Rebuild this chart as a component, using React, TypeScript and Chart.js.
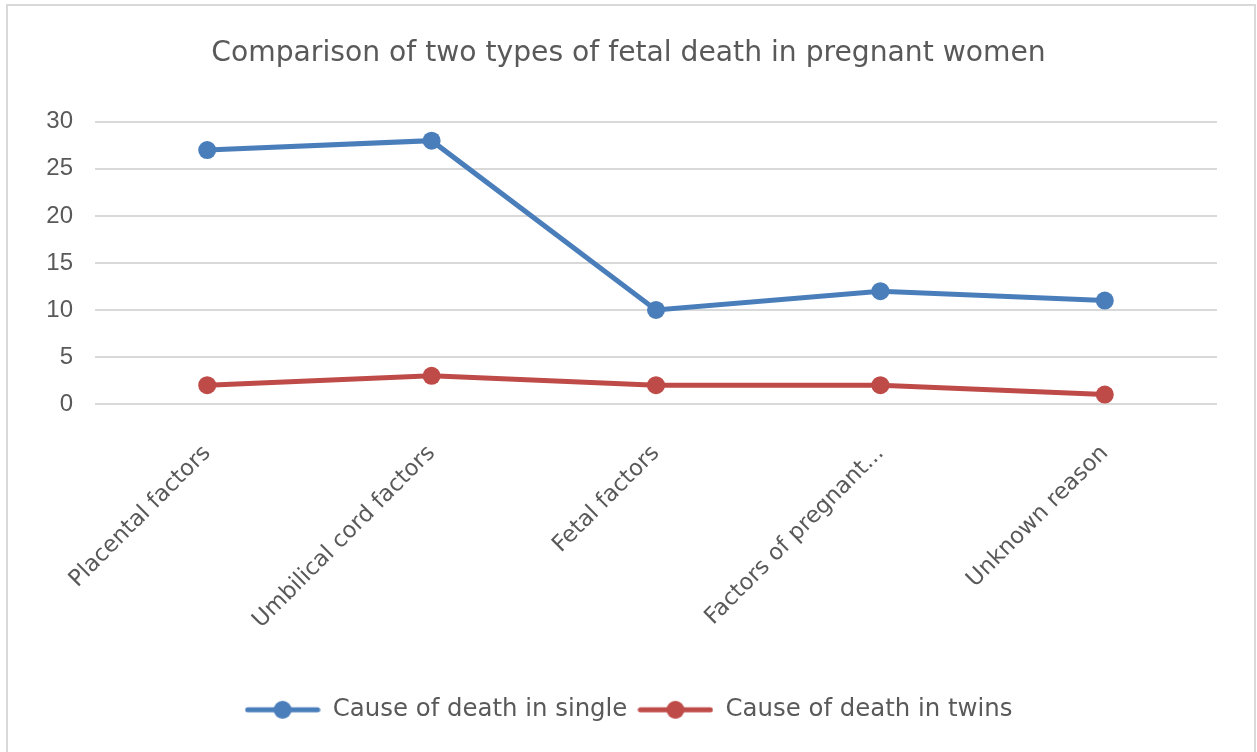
import React, { useEffect, useRef } from "react";
import { Chart, registerables } from "chart.js";

Chart.register(...registerables);

const categories = [
  "Placental factors",
  "Umbilical cord factors",
  "Fetal factors",
  "Factors of pregnant...",
  "Unknown reason",
];
const singleValues = [27, 28, 10, 12, 11];
const twinsValues = [2, 3, 2, 2, 1];
const seriesNames = ["Cause of death in single", "Cause of death in twins"];
const yTicks = [0, 5, 10, 15, 20, 25, 30];
const titleText = "Comparison of two types of fetal death in pregnant women";

const BLUE = "#4A7EBB";
const RED = "#BE4B48";
const TEXT = "#595959";
const FONT = "'DejaVu Sans', sans-serif";
const TICK_FONT = "'Liberation Sans', Arial, sans-serif";

function makeLegendMarker(color: string): HTMLCanvasElement {
  const c = document.createElement("canvas");
  c.width = 76;
  c.height = 22;
  const ctx = c.getContext("2d")!;
  ctx.strokeStyle = color;
  ctx.lineWidth = 5;
  ctx.lineCap = "round";
  ctx.beginPath();
  ctx.moveTo(3, 11);
  ctx.lineTo(73, 11);
  ctx.stroke();
  ctx.fillStyle = color;
  ctx.beginPath();
  ctx.arc(38, 11, 9, 0, Math.PI * 2);
  ctx.fill();
  return c;
}

export default function App() {
  const ref = useRef<HTMLCanvasElement>(null);

  useEffect(() => {
    if (!ref.current) return;
    const markers = [makeLegendMarker(BLUE), makeLegendMarker(RED)];
    const chart = new Chart(ref.current, {
      type: "line",
      data: {
        labels: categories,
        datasets: [
          {
            label: seriesNames[0],
            data: singleValues,
            borderColor: BLUE,
            backgroundColor: BLUE,
            borderWidth: 5,
            pointRadius: 9,
            pointBorderWidth: 0,
            pointBackgroundColor: BLUE,
            tension: 0,
          },
          {
            label: seriesNames[1],
            data: twinsValues,
            borderColor: RED,
            backgroundColor: RED,
            borderWidth: 5,
            pointRadius: 9,
            pointBorderWidth: 0,
            pointBackgroundColor: RED,
            tension: 0,
          },
        ],
      },
      options: {
        animation: false,
        responsive: false,
        maintainAspectRatio: false,
        layout: { padding: { left: 8, right: 8, top: 0, bottom: 20 } },
        plugins: {
          tooltip: { enabled: false },
          title: {
            display: true,
            text: titleText,
            color: TEXT,
            font: { family: FONT, size: 28.2, weight: "normal", lineHeight: 1.2 },
            padding: { top: 37, bottom: 51 },
          },
          legend: {
            position: "bottom",
            labels: {
              color: TEXT,
              font: { family: FONT, size: 24.4 },
              usePointStyle: true,
              pointStyleWidth: 76,
              padding: 10,
              generateLabels: (ch: any) =>
                ch.data.datasets.map((ds: any, i: number) => ({
                  text: ds.label,
                  fillStyle: ds.borderColor,
                  strokeStyle: ds.borderColor,
                  lineWidth: 0,
                  pointStyle: markers[i],
                  datasetIndex: i,
                  hidden: false,
                  fontColor: TEXT,
                })),
            },
          },
        },
        scales: {
          x: {
            offset: true,
            grid: { display: false, drawTicks: false, offset: true },
            border: { display: false },
            ticks: {
              color: TEXT,
              font: { family: FONT, size: 22.7 },
              minRotation: 45,
              maxRotation: 45,
              padding: 36,
              autoSkip: false,
            },
            afterFit: (scale: any) => {
              scale.height = 283.6;
            },
          },
          y: {
            min: 0,
            max: 30,
            afterBuildTicks: (scale: any) => {
              scale.ticks = yTicks.map((v) => ({ value: v }));
            },
            grid: { color: "#D9D9D9", lineWidth: 2, drawTicks: false },
            border: { display: false },
            ticks: {
              color: TEXT,
              font: { family: TICK_FONT, size: 24 },
              padding: 22,
            },
            afterFit: (scale: any) => {
              scale.width = 87;
            },
          },
          yRightSpace: {
            position: "right",
            display: true,
            grid: { display: false, drawTicks: false },
            border: { display: false },
            ticks: { display: false },
            afterFit: (scale: any) => {
              scale.width = 32;
            },
          },
        },
      },
    });
    return () => chart.destroy();
  }, []);

  return (
    <div
      style={{
        position: "fixed",
        left: 0,
        top: 0,
        width: 1257,
        height: 752,
        background: "#fff",
        overflow: "hidden",
      }}
    >
      <canvas ref={ref} width={1257} height={752} style={{ display: "block" }} />
      <div
        style={{
          position: "absolute",
          left: 6,
          top: 4,
          width: 1250,
          height: 760,
          border: "2px solid #D9D9D9",
          boxSizing: "border-box",
          pointerEvents: "none",
        }}
      />
    </div>
  );
}
